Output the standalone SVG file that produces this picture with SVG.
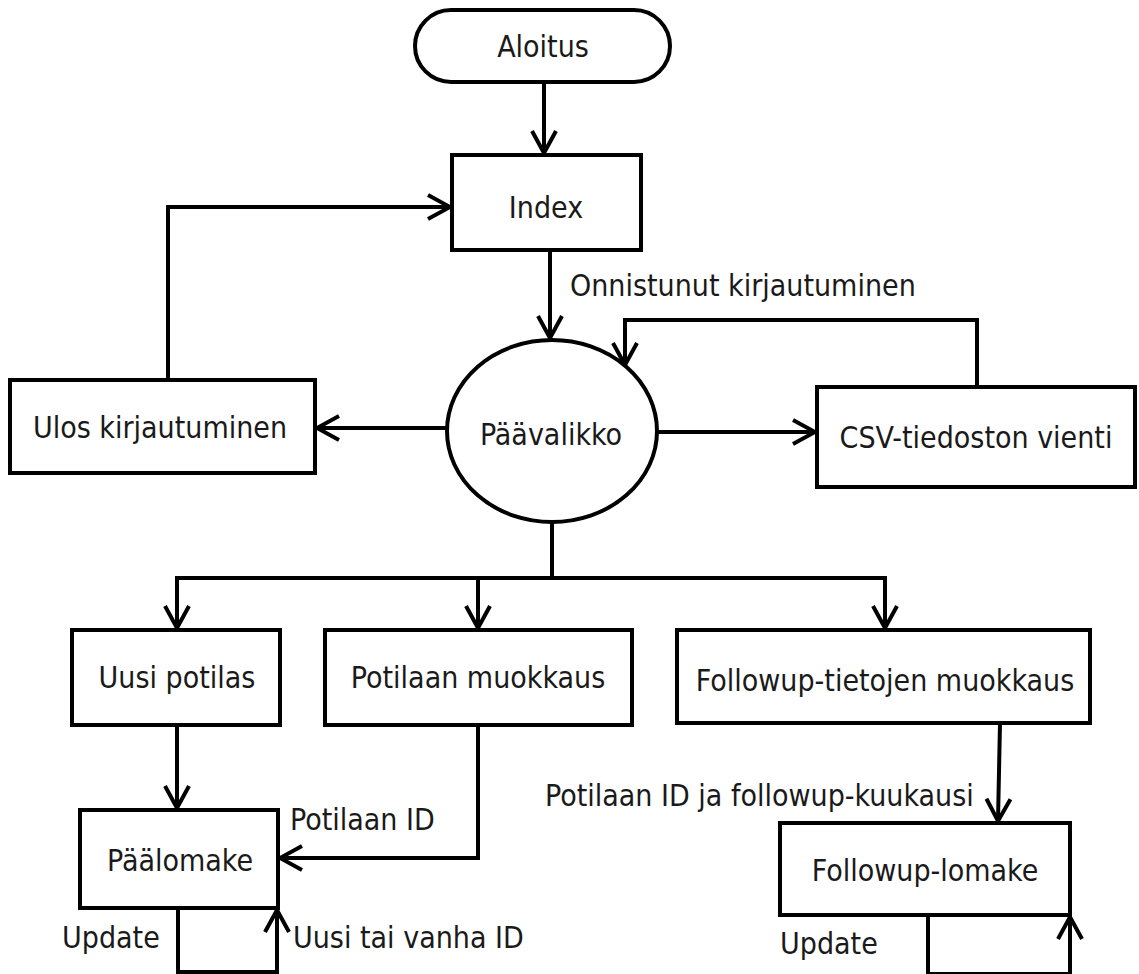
<svg xmlns="http://www.w3.org/2000/svg" width="1139" height="974" viewBox="0 0 1139 974">
<style>
.box{fill:#fff;stroke:#000;stroke-width:4}
.ln{fill:none;stroke:#000;stroke-width:4}
text{font-family:"DejaVu Sans Condensed","DejaVu Sans","Liberation Sans",sans-serif;font-size:30px;fill:#1a1a1a}
.c{text-anchor:middle;dominant-baseline:central}
</style>
<defs>
<marker id="arr" markerUnits="userSpaceOnUse" markerWidth="30" markerHeight="30" viewBox="0 0 30 30" refX="26" refY="15" orient="auto">
<path d="M4,3 L26,15 L4,27" fill="none" stroke="#000" stroke-width="4"/>
</marker>
</defs>
<g id="connectors">
<path class="ln" d="M544,82 V153" marker-end="url(#arr)"/>
<path class="ln" d="M550,250 V338" marker-end="url(#arr)"/>
<path class="ln" d="M168,380 V207 H450" marker-end="url(#arr)"/>
<path class="ln" d="M447,428 H317" marker-end="url(#arr)"/>
<path class="ln" d="M657,432 H815" marker-end="url(#arr)"/>
<path class="ln" d="M977,387 V320 H625 V365" marker-end="url(#arr)"/>
<path class="ln" d="M552,522 V578"/>
<path class="ln" d="M175,578 H887"/>
<path class="ln" d="M177,578 V628" marker-end="url(#arr)"/>
<path class="ln" d="M478,578 V628" marker-end="url(#arr)"/>
<path class="ln" d="M885,578 V628" marker-end="url(#arr)"/>
<path class="ln" d="M177,725 V808" marker-end="url(#arr)"/>
<path class="ln" d="M478,725 V858 H280" marker-end="url(#arr)"/>
<path class="ln" d="M178,908 V972 H277 V910" marker-end="url(#arr)"/>
<path class="ln" d="M1000,723 L998,821" marker-end="url(#arr)"/>
<path class="ln" d="M928,915 V974 H1070 V917" marker-end="url(#arr)"/>
<text x="570" y="296">Onnistunut kirjautuminen</text>
<text x="290" y="830">Potilaan ID</text>
<text x="62" y="948">Update</text>
<text x="293" y="948">Uusi tai vanha ID</text>
<text x="545" y="806">Potilaan ID ja followup-kuukausi</text>
<text x="780" y="954">Update</text>
</g>
<g id="aloitus"><rect class="box" x="415" y="10" width="255" height="72" rx="36"/><text class="c" x="543" y="46">Aloitus</text></g>
<g id="index"><rect class="box" x="452" y="155" width="189" height="95"/><text class="c" x="546" y="207">Index</text></g>
<g id="paavalikko"><ellipse class="box" cx="552" cy="431" rx="105" ry="91"/><text class="c" x="551" y="434">Päävalikko</text></g>
<g id="ulos"><rect class="box" x="10" y="380" width="305" height="93"/><text class="c" x="160" y="427">Ulos kirjautuminen</text></g>
<g id="csv"><rect class="box" x="817" y="387" width="318" height="100"/><text class="c" x="976" y="437">CSV-tiedoston vienti</text></g>
<g id="uusi"><rect class="box" x="72" y="630" width="208" height="95"/><text class="c" x="177" y="677">Uusi potilas</text></g>
<g id="muokkaus"><rect class="box" x="325" y="630" width="307" height="95"/><text class="c" x="478" y="677">Potilaan muokkaus</text></g>
<g id="followup"><rect class="box" x="677" y="630" width="413" height="93"/><text class="c" x="885" y="680">Followup-tietojen muokkaus</text></g>
<g id="paalomake"><rect class="box" x="80" y="810" width="198" height="98"/><text class="c" x="180" y="860">Päälomake</text></g>
<g id="followuplomake"><rect class="box" x="780" y="823" width="290" height="92"/><text class="c" x="925" y="870">Followup-lomake</text></g>
</svg>
